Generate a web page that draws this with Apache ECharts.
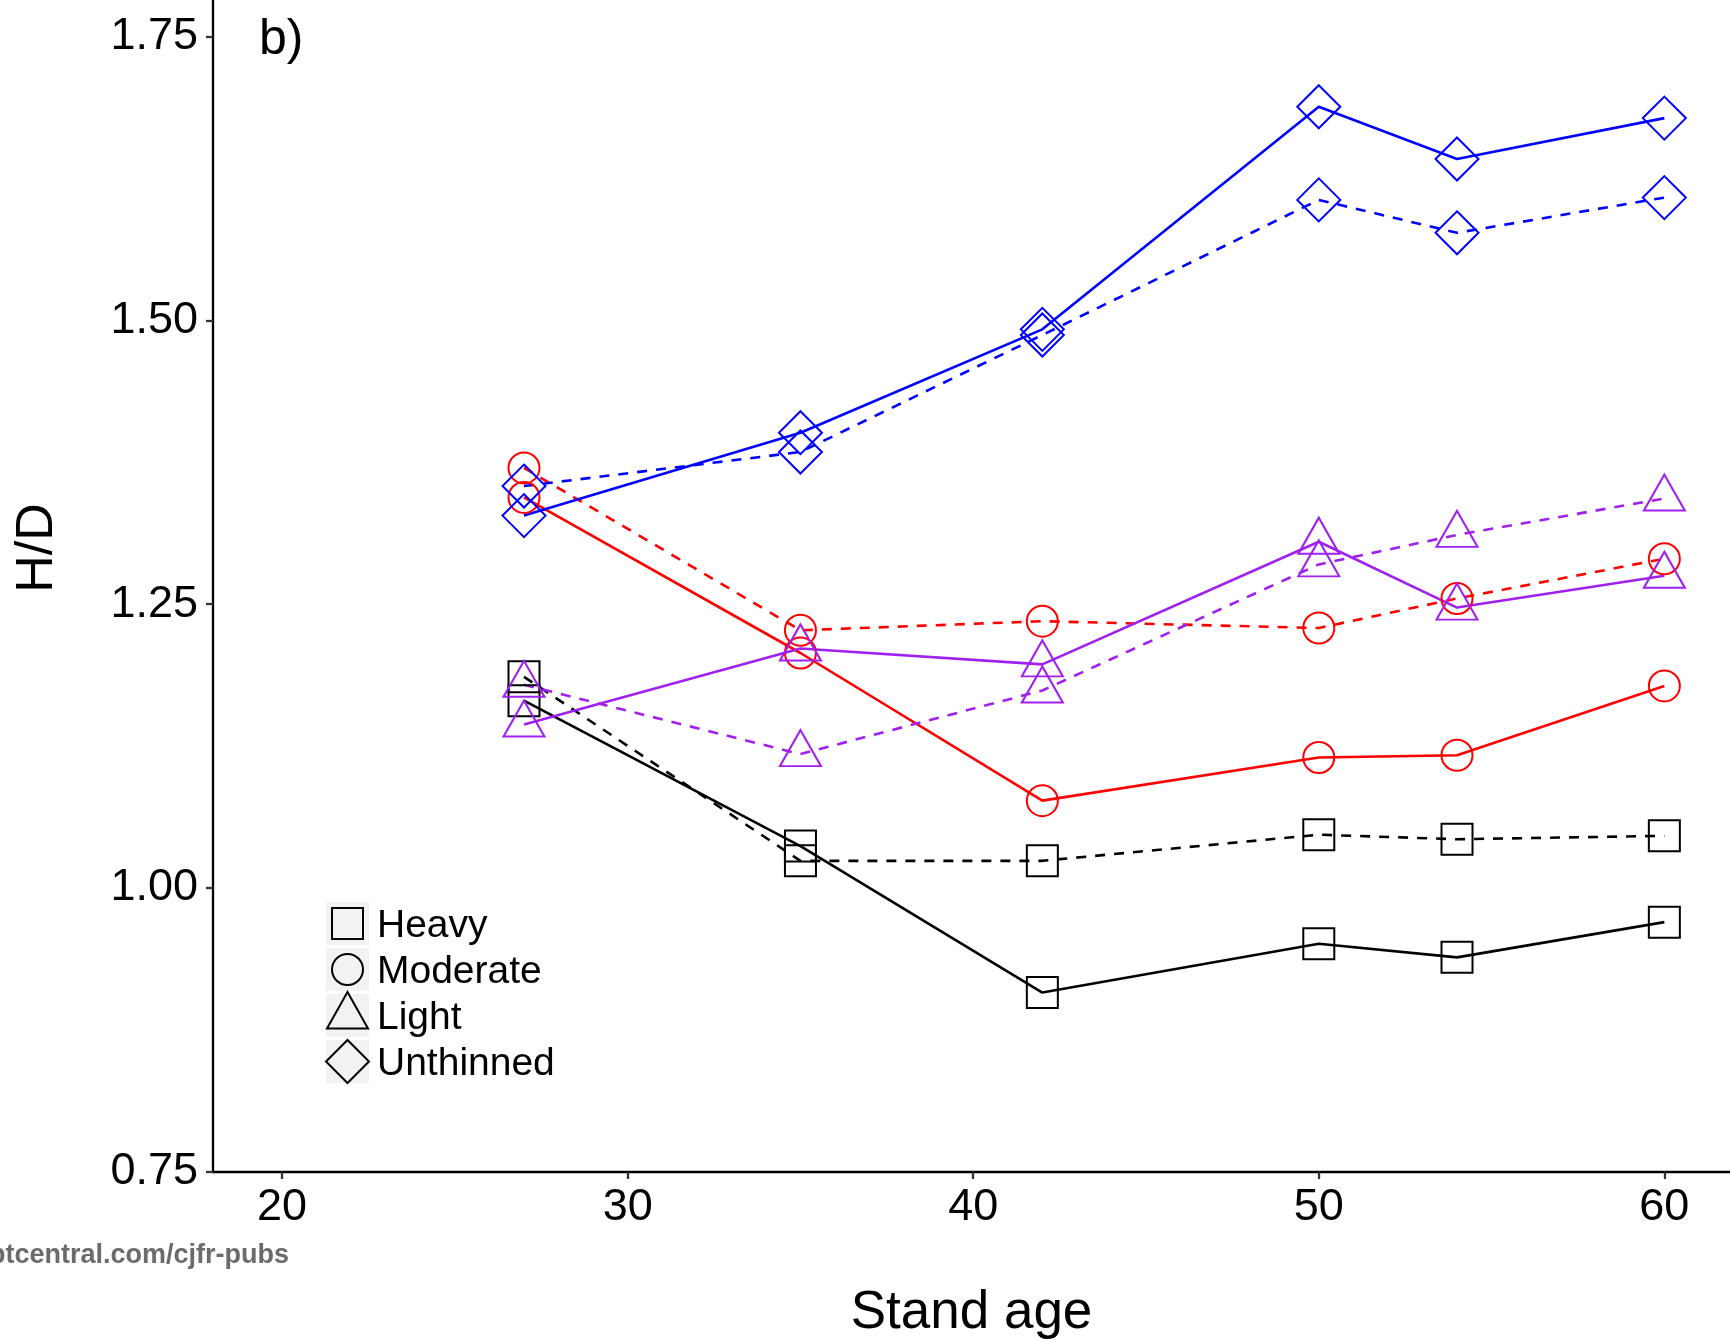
<!DOCTYPE html>
<html><head><meta charset="utf-8">
<script src="https://cdn.jsdelivr.net/npm/echarts@6/dist/echarts.min.js"></script>
<style>html,body{margin:0;padding:0;background:#fff}#c{width:1730px;height:1340px}</style>
</head><body><div id="c"></div>
<script>
// ---- data ----
const ages = [27, 35, 42, 50, 54, 60];
const treatments = ['Heavy', 'Moderate', 'Light', 'Unthinned'];
const heavySolid      = [1.165, 1.037, 0.908, 0.951, 0.939, 0.970];
const heavyDashed     = [1.186, 1.024, 1.024, 1.047, 1.043, 1.046];
const moderateSolid   = [1.344, 1.207, 1.077, 1.115, 1.117, 1.178];
const moderateDashed  = [1.370, 1.227, 1.235, 1.229, 1.255, 1.290];
const lightSolid      = [1.144, 1.211, 1.197, 1.305, 1.247, 1.275];
const lightDashed     = [1.179, 1.118, 1.174, 1.285, 1.311, 1.343];
const unthinnedSolid  = [1.328, 1.401, 1.492, 1.688, 1.642, 1.678];
const unthinnedDashed = [1.354, 1.384, 1.487, 1.606, 1.577, 1.608];
const xTicks = [20, 30, 40, 50, 60];
const yTicks = [0.75, 1.00, 1.25, 1.50, 1.75];
const xTitle = 'Stand age';
const yTitle = 'H/D';
const panelLabel = 'b)';
const watermark = 'http://mc06.manuscriptcentral.com/cjfr-pubs';

const FONT = '"Liberation Sans", Arial, Helvetica, sans-serif';
const styles = {
  Heavy:     {color: '#000000', symbol: 'rect',     size: 31,       offset: [0, 0]},
  Moderate:  {color: '#FF0000', symbol: 'circle',   size: 31,       offset: [0, 0]},
  Light:     {color: '#A020F0', symbol: 'triangle', size: [41, 36], offset: [0, -6]},
  Unthinned: {color: '#0000FF', symbol: 'diamond',  size: 43,       offset: [0, 0]}
};
const seriesDefs = [
  ['Heavy', 'dashed', heavyDashed], ['Heavy', 'solid', heavySolid],
  ['Moderate', 'dashed', moderateDashed], ['Moderate', 'solid', moderateSolid],
  ['Light', 'dashed', lightDashed], ['Light', 'solid', lightSolid],
  ['Unthinned', 'dashed', unthinnedDashed], ['Unthinned', 'solid', unthinnedSolid]
];

const series = seriesDefs.map(([t, lt, vals]) => {
  const s = styles[t];
  return {
    name: t + ' (' + lt + ')',
    type: 'line',
    data: ages.map((a, i) => [a, vals[i]]),
    symbol: s.symbol,
    symbolSize: s.size,
    symbolOffset: s.offset,
    showSymbol: true,
    showAllSymbol: true,
    clip: false,
    lineStyle: {color: s.color, width: 2.6, type: lt === 'dashed' ? [10, 9] : 'solid'},
    itemStyle: {color: 'rgba(0,0,0,0)', borderColor: s.color, borderWidth: 2},
    emphasis: {disabled: true},
    animation: false
  };
});

// legend drawn as graphic elements (ggplot-style keys with grey background)
const keyX = 326, keyW = 43, rowTop = 902, rowPitch = 46;
const legendEls = [];
treatments.forEach((t, i) => {
  const top = rowTop + i * rowPitch;
  const cx = keyX + keyW / 2, cy = top + keyW / 2;
  legendEls.push({type: 'rect', shape: {x: keyX, y: top, width: keyW, height: keyW}, style: {fill: '#F2F2F2'}, silent: true});
  const st = {fill: 'none', stroke: '#000', lineWidth: 2};
  if (t === 'Heavy') legendEls.push({type: 'rect', shape: {x: cx - 15.5, y: cy - 15.5, width: 31, height: 31}, style: st});
  if (t === 'Moderate') legendEls.push({type: 'circle', shape: {cx: cx, cy: cy, r: 15.5}, style: st});
  if (t === 'Light') legendEls.push({type: 'polygon', shape: {points: [[cx, cy - 23.5], [cx + 20.5, cy + 13], [cx - 20.5, cy + 13]]}, style: st});
  if (t === 'Unthinned') legendEls.push({type: 'polygon', shape: {points: [[cx, cy - 21.5], [cx + 21.5, cy], [cx, cy + 21.5], [cx - 21.5, cy]]}, style: st});
  legendEls.push({type: 'text', x: 377, y: cy + 3, style: {text: t, font: '39px ' + FONT, fill: '#000', verticalAlign: 'middle'}});
});

const chart = echarts.init(document.getElementById('c'), null, {renderer: 'canvas'});
chart.setOption({
  animation: false,
  backgroundColor: '#ffffff',
  grid: {left: 213, right: 0, top: 0, bottom: 168, containLabel: false, outerBoundsMode: 'none'},
  xAxis: {
    type: 'value', min: 18, max: 61.9,
    axisLine: {onZero: false, lineStyle: {color: '#000', width: 2.3}},
    axisTick: {show: true, customValues: xTicks, length: 7, lineStyle: {color: '#333', width: 2.3}},
    axisLabel: {customValues: xTicks, fontSize: 45, color: '#000', margin: 13, fontFamily: FONT},
    splitLine: {show: false},
    name: xTitle, nameLocation: 'middle', nameGap: 115,
    nameTextStyle: {fontSize: 53, color: '#000', fontFamily: FONT}
  },
  yAxis: {
    type: 'value', min: 0.75, max: 1.782,
    axisLine: {onZero: false, lineStyle: {color: '#000', width: 2.3}},
    axisTick: {show: true, customValues: yTicks, length: 7, lineStyle: {color: '#333', width: 2.3}},
    axisLabel: {customValues: yTicks, fontSize: 45, color: '#000', margin: 15, fontFamily: FONT,
      formatter: v => Number(v).toFixed(2)},
    splitLine: {show: false}
  },
  series: series,
  graphic: [
    {type: 'text', x: 38, y: 548, rotation: Math.PI / 2,
      style: {text: yTitle, font: '52px ' + FONT, fill: '#000', align: 'center', verticalAlign: 'middle'}},
    {type: 'text', x: 259, y: 40,
      style: {text: panelLabel, font: '50px ' + FONT, fill: '#000', align: 'left', verticalAlign: 'middle'}},
    {type: 'text', x: 289, y: 1256,
      style: {text: watermark, font: 'bold 27px ' + FONT, fill: '#6b6b6b', align: 'right', verticalAlign: 'middle'}}
  ].concat(legendEls)
});
</script>
</body></html>
